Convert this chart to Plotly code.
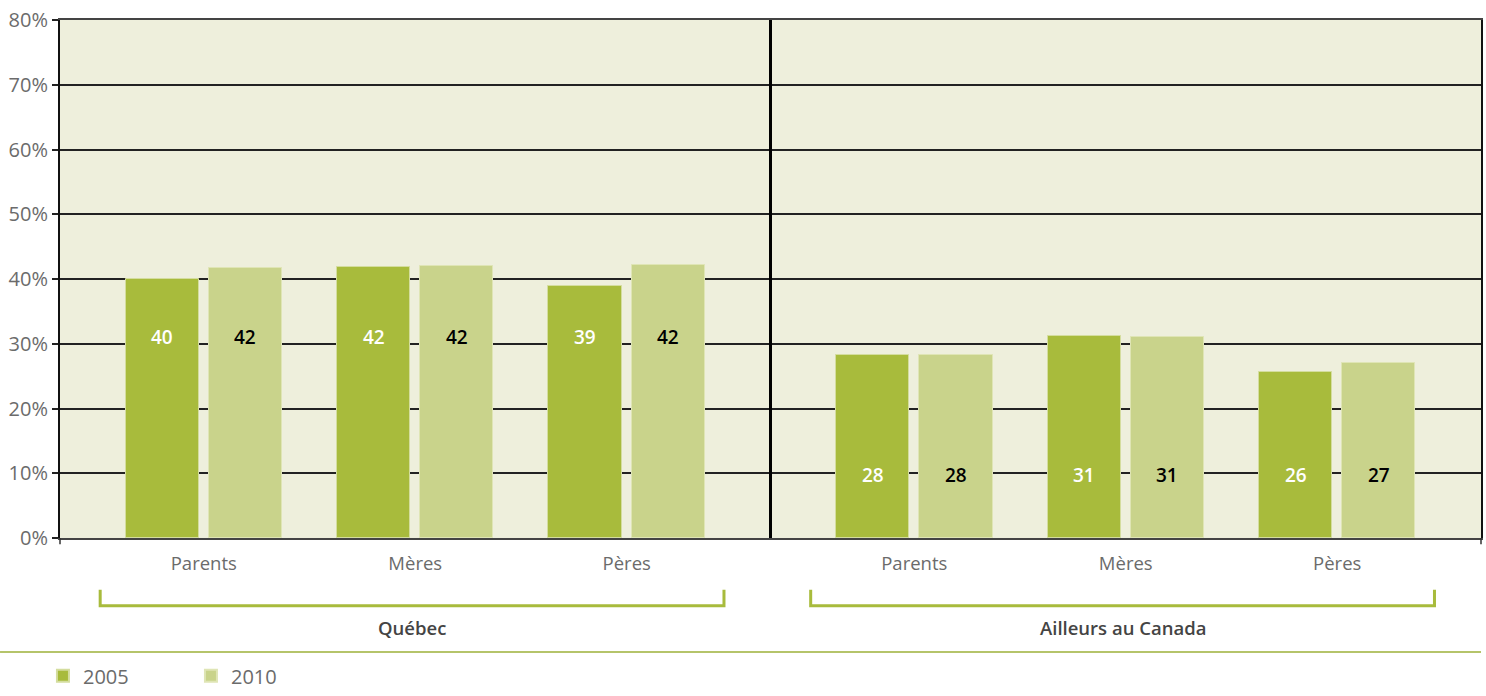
import plotly.graph_objects as go

# Data
regions = ["Québec", "Ailleurs au Canada"]
groups = ["Parents", "Mères", "Pères"]
values_2005 = [40.0, 41.8, 38.9, 28.3, 31.2, 25.7]
values_2010 = [41.7, 42.0, 42.2, 28.3, 31.1, 27.0]
series_names = ["2005", "2010"]
y_ticks = [0, 10, 20, 30, 40, 50, 60, 70, 80]
y_tick_labels = [f"{v}%" for v in y_ticks]

# Layout constants
C_DARK = "#a8bb3c"
C_LIGHT = "#c9d38b"
C_BG = "#eeefdc"
C_TEXT = "#6b6b6b"
FONT = "Open Sans"

half_width = 3.36            # width of one region block in axis units
edge_pad = 0.68              # space from block edge to first group centre
bar_offset = 0.197
bar_width = 0.346
label_y = [31.0, 9.7]        # vertical position of the value labels per region

centers = []
for r in range(len(regions)):
    for g in range(len(groups)):
        centers.append(r * half_width + g)
x_min = -edge_pad
x_max = 2 * half_width - edge_pad
divider_x = half_width - edge_pad

x_2005 = [c - bar_offset for c in centers]
x_2010 = [c + bar_offset for c in centers]

fig = go.Figure()
fig.add_trace(go.Bar(
    x=x_2005, y=values_2005, width=bar_width, name=series_names[0],
    marker=dict(color=C_DARK, line=dict(color="#d4dd9e", width=1)),
    hoverinfo="y",
))
fig.add_trace(go.Bar(
    x=x_2010, y=values_2010, width=bar_width, name=series_names[1],
    marker=dict(color=C_LIGHT, line=dict(color="#dfe5b5", width=1)),
    hoverinfo="y",
))

annotations = []
for i, c in enumerate(centers):
    r = i // len(groups)
    annotations.append(dict(
        x=x_2005[i], y=label_y[r], xref="x", yref="y",
        text=f"{values_2005[i]:.0f}", showarrow=False,
        font=dict(family=FONT, size=19, color="white", weight=600),
    ))
    annotations.append(dict(
        x=x_2010[i], y=label_y[r], xref="x", yref="y",
        text=f"{values_2010[i]:.0f}", showarrow=False,
        font=dict(family=FONT, size=19, color="black", weight=600),
    ))

shapes = []
# vertical divider between regions
shapes.append(dict(type="line", xref="x", yref="y", x0=divider_x, x1=divider_x,
                   y0=0, y1=80, line=dict(color="black", width=3), layer="above"))

# brackets beneath each region
br_top, br_bot = -0.100, -0.131
for r in range(len(regions)):
    first = centers[r * len(groups)]
    last = centers[r * len(groups) + len(groups) - 1]
    xl, xr = first - 0.49, last + 0.46
    shapes.append(dict(type="path", xref="x", yref="paper",
                       path=f"M {xl},{br_top} L {xl},{br_bot} L {xr},{br_bot} L {xr},{br_top}",
                       line=dict(color=C_DARK, width=3)))
    annotations.append(dict(
        x=(xl + xr) / 2, y=-0.172, xref="x", yref="paper", yanchor="middle",
        text=regions[r], showarrow=False,
        font=dict(family=FONT, size=18.5, color="#444444", weight=600),
    ))

# separator line above the legend
shapes.append(dict(type="line", xref="paper", yref="paper", x0=-0.0422, x1=1.0,
                   y0=-0.220, y1=-0.220, line=dict(color="#b5c46a", width=2)))

# small end ticks on the x axis
for xe in (0, 1):
    shapes.append(dict(type="line", xref="paper", yref="paper", x0=xe, x1=xe,
                       y0=0, y1=-0.012, line=dict(color="#333333", width=1.5)))

fig.update_layout(
    width=1486, height=696,
    margin=dict(l=60, r=5, t=20, b=158, autoexpand=False),
    paper_bgcolor="white",
    plot_bgcolor=C_BG,
    barmode="overlay",
    bargap=0,
    font=dict(family=FONT, color=C_TEXT),
    showlegend=True,
    legend=dict(
        orientation="h", x=-0.012, xanchor="left", y=-0.3035, yanchor="bottom",
        font=dict(family=FONT, size=20, color=C_TEXT),
        itemsizing="constant", traceorder="normal",
        entrywidth=103, entrywidthmode="pixels",
        bgcolor="rgba(0,0,0,0)",
    ),
    annotations=annotations,
    shapes=shapes,
    xaxis=dict(
        range=[x_min, x_max],
        tickmode="array", tickvals=centers, ticktext=groups * len(regions),
        tickfont=dict(family=FONT, size=18.5, color=C_TEXT),
        ticks="", showgrid=False, zeroline=False,
        showline=True, linecolor="#444444", linewidth=2, mirror=True,
        ticklabelstandoff=8,
    ),
    yaxis=dict(
        range=[0, 80],
        tickmode="array", tickvals=y_ticks, ticktext=y_tick_labels,
        tickfont=dict(family=FONT, size=20, color=C_TEXT),
        ticks="outside", ticklen=6, tickcolor="#222222", tickwidth=1.5,
        showgrid=True, gridcolor="#222222", gridwidth=1.5,
        zeroline=False,
        showline=True, linecolor="#111111", linewidth=2, mirror=True,
    ),
)

fig.write_html("out.html")
